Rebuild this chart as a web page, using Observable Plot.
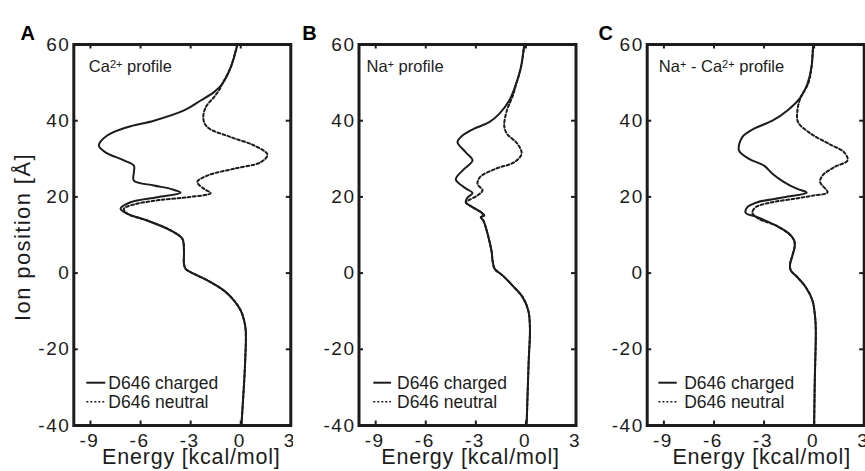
<!DOCTYPE html>
<html><head><meta charset="utf-8">
<script src="https://cdn.jsdelivr.net/npm/d3@7"></script>
<script src="https://cdn.jsdelivr.net/npm/@observablehq/plot@0.6"></script>
<style>
html,body{margin:0;padding:0;background:#fff;}
#wrap{position:relative;width:865px;height:471px;overflow:hidden;font-family:"Liberation Sans",Arial,sans-serif;}
#wrap svg{position:absolute;top:0;max-width:none;overflow:visible;}
#wrap g[aria-label$="tick label"] text{letter-spacing:1.5px;}
</style></head><body><div id="wrap"></div>
<script>
// ---- tick labels & text ----
const xTicks = [-9, -6, -3, 0, 3];
const yTicks = [60, 40, 20, 0, -20, -40];
const xInnerTicks = [-9, -6, -3, 0];
const yInnerTicks = [40, 20, 0, -20];
const xLabel = "Energy [kcal/mol]";
const yLabel = "Ion position [Å]";
const seriesNames = ["D646 charged", "D646 neutral"];
const panelLetters = ["A", "B", "C"];
const panelTitles = ["Ca^2+^ profile", "Na^+^ profile", "Na^+^ - Ca^2+^ profile"];

// ---- Panel A: Ca2+ profile ----
const caChargedPos = [60, 54, 49.7, 47.5, 45.3, 42.7, 40, 38.3, 36.1, 33.5, 31.7, 29.6, 28.2, 26.5, 24.3, 23, 22.1, 21.1, 19.9, 18.6, 16.9, 15.6, 13.8, 11.2, 9, 5.9, 2.4, 1.1, -0.2, -1.9, -4.6, -7.2, -9.8, -12.4, -15.1, -23.8, -40];
const caChargedE   = [-0.2, -0.6, -1.1, -1.6, -2.4, -3.4, -5.2, -6.8, -8.0, -8.5, -8.1, -7.0, -6.4, -6.4, -6.4, -5.2, -4.2, -3.6, -5.0, -6.6, -7.2, -6.8, -5.6, -4.2, -3.5, -3.4, -3.4, -3.3, -2.8, -2.0, -1.0, -0.4, 0.0, 0.2, 0.3, 0.26, 0.04];
const caNeutralPos = [60, 54, 49.7, 48, 46.2, 43.5, 40.5, 38.3, 35.7, 33.5, 31.1, 29.1, 27.4, 25.6, 23.9, 22.1, 21, 19.9, 19.1, 18, 16.9, 15.6, 13.8, 11.2, 9, 5.9, 2.4, 1.1, -0.2, -1.9, -4.6, -7.2, -9.8, -12.4, -15.1, -23.8, -40];
const caNeutralE   = [-0.2, -0.6, -1.1, -1.3, -1.6, -2.1, -2.24, -2.0, -0.6, 0.8, 1.6, 1.2, -0.4, -2.0, -2.6, -2.2, -1.8, -3.2, -5.0, -6.4, -7.0, -6.8, -5.6, -4.2, -3.5, -3.4, -3.4, -3.3, -2.8, -2.0, -1.0, -0.4, 0.0, 0.2, 0.3, 0.26, 0.04];

// ---- Panel B: Na+ profile ----
const naChargedPos = [60, 54, 48.8, 45.3, 41.8, 39.6, 37.9, 36.1, 34.4, 31.7, 29.6, 26.9, 24.6, 22.5, 21, 19.8, 18.6, 17.3, 16, 15.1, 14.7, 13.8, 11.2, 8.6, 5.5, 3.3, 1.1, -0.6, -3.3, -6.3, -9.8, -14.2, -23.8, -40];
const naChargedE   = [-0.1, -0.3, -0.66, -1.0, -1.6, -2.2, -3.1, -3.8, -4.1, -3.6, -3.2, -3.8, -4.2, -3.7, -3.2, -3.5, -3.6, -3.2, -2.7, -2.5, -2.7, -2.55, -2.35, -2.2, -2.05, -2.0, -1.87, -1.4, -0.8, -0.2, 0.14, 0.24, 0.16, 0.04];
const naNeutralPos = [60, 54, 48.8, 47.1, 44.8, 42.7, 38.7, 36.6, 33.9, 31.3, 29.1, 27.4, 25.2, 23.4, 21.7, 20.4, 19.2, 18.6, 17.3, 16, 15.1, 14.7, 13.8, 11.2, 8.6, 5.5, 3.3, 1.1, -0.6, -3.3, -6.3, -9.8, -14.2, -23.8, -40];
const naNeutralE   = [-0.1, -0.3, -0.64, -0.74, -0.95, -1.14, -1.3, -1.14, -0.5, -0.26, -0.7, -1.8, -2.75, -2.9, -2.6, -2.9, -3.4, -3.6, -3.2, -2.7, -2.5, -2.7, -2.55, -2.35, -2.2, -2.05, -2.0, -1.87, -1.4, -0.8, -0.2, 0.14, 0.24, 0.16, 0.04];

// ---- Panel C: Na+ - Ca2+ profile ----
const diffChargedPos = [60, 54, 49.7, 46.2, 42.7, 40, 37.9, 35.7, 32.2, 30, 28.2, 26.1, 23.9, 22.1, 21.1, 19.9, 18.6, 17.3, 15.8, 14.7, 12.5, 10.3, 8.6, 7.2, 4.6, 2.4, 0.7, -1.1, -3.7, -7.2, -11.6, -15.1, -28.2, -40];
const diffChargedE   = [-0.06, -0.16, -0.4, -0.8, -1.6, -2.5, -3.6, -4.3, -4.5, -3.9, -3.0, -2.5, -1.8, -1.0, -0.44, -1.8, -3.4, -4.0, -4.1, -3.4, -2.3, -1.5, -1.2, -1.16, -1.3, -1.44, -1.4, -1.0, -0.5, -0.1, 0.06, 0.1, 0.04, 0.0];
const diffNeutralPos = [60, 54, 49.7, 46.2, 42.7, 39.6, 36.6, 33.9, 31.7, 29.6, 27.8, 25.6, 23.9, 21.2, 20.4, 19.5, 18.6, 17.3, 15.8, 14.2, 12.5, 10.3, 8.6, 7.2, 4.6, 2.4, 0.7, -1.1, -3.7, -7.2, -11.6, -15.1, -28.2, -40];
const diffNeutralE   = [-0.06, -0.16, -0.36, -0.8, -1.0, -0.96, -0.2, 0.9, 1.8, 2.0, 1.2, 0.5, 0.36, 0.8, 0.0, -1.2, -2.5, -3.5, -3.7, -3.3, -2.3, -1.5, -1.2, -1.16, -1.3, -1.44, -1.4, -1.0, -0.5, -0.1, 0.06, 0.1, 0.04, 0.0];

const toRows = (pos, e) => pos.map((p, i) => ({pos: p, e: e[i]}));

const INK = "#1c1c1c";
const plotW = 217, plotH = 381, mTop = 44, mBottom = 46;
const panels = [
  {left: 0,   mL: 73.3, width: 293, letterDx: -53.3, titleDx: 15,  legLine: [13, 32], legText: 35, yTitle: true,
   charged: toRows(caChargedPos, caChargedE), neutral: toRows(caNeutralPos, caNeutralE), xTitleDx: 9},
  {left: 293, mL: 65.5, width: 287, letterDx: -56.8, titleDx: 7.5, legLine: [14.8, 32.5], legText: 38.5, yTitle: false,
   charged: toRows(naChargedPos, naChargedE), neutral: toRows(naNeutralPos, naNeutralE), xTitleDx: 3},
  {left: 580, mL: 66.7, width: 285, letterDx: -48.7, titleDx: 11.6, legLine: [11.7, 30], legText: 37.5, yTitle: false,
   charged: toRows(diffChargedPos, diffChargedE), neutral: toRows(diffNeutralPos, diffNeutralE), xTitleDx: 6},
];

const wrap = document.getElementById("wrap");
panels.forEach((cfg, i) => {
  const marks = [
    Plot.line(cfg.neutral, {x: "e", y: "pos", curve: "catmull-rom", stroke: INK, strokeWidth: 2, strokeDasharray: "2.8,2.4"}),
    Plot.line(cfg.charged, {x: "e", y: "pos", curve: "catmull-rom", stroke: INK, strokeWidth: 2}),
    Plot.tickX(xInnerTicks, {x: d => d, insetTop: plotH - 4.5, stroke: INK, strokeWidth: 2}),
    Plot.tickX(xInnerTicks, {x: d => d, insetBottom: plotH - 4.5, stroke: INK, strokeWidth: 2}),
    Plot.tickY(yInnerTicks, {y: d => d, insetRight: plotW - 4.5, stroke: INK, strokeWidth: 2}),
    Plot.tickY(yInnerTicks, {y: d => d, insetLeft: plotW - 4.5, stroke: INK, strokeWidth: 2}),
    Plot.frame({stroke: INK, strokeWidth: 3}),
    Plot.axisX({ticks: xTicks, tickSize: 0, tickPadding: 8, tickFormat: d => String(d), label: null, fontSize: 19, fill: INK, dx: -1}),
    Plot.axisY({ticks: yTicks, tickSize: 0, tickPadding: 3.5, tickFormat: d => String(d), label: null, fontSize: 19, fill: INK}),
    Plot.text([xLabel], {text: d => d, frameAnchor: "bottom", dx: cfg.xTitleDx, dy: 38.6, fontSize: 21.5, fill: INK}),
    Plot.text([panelLetters[i]], {text: d => d, frameAnchor: "top-left", textAnchor: "start", dx: cfg.letterDx, dy: -18.6, fontSize: 20, fontWeight: "bold", fill: "#000"}),
    Plot.text([panelTitles[i]], {text: d => d, frameAnchor: "top-left", textAnchor: "start", dx: cfg.titleDx, dy: 15.9, fontSize: 16.5, fill: INK}),
  ];
  if (cfg.yTitle) marks.push(Plot.text([yLabel], {text: d => d, frameAnchor: "left", textAnchor: "middle", rotate: -90, dx: -51, dy: 2, fontSize: 22, fill: INK}));

  const svg = Plot.plot({
    width: cfg.width, height: 471,
    marginLeft: cfg.mL, marginRight: cfg.width - cfg.mL - plotW, marginTop: mTop, marginBottom: mBottom,
    x: {domain: [-10, 3], label: null},
    y: {domain: [-40, 60], label: null},
    style: {fontFamily: "'Liberation Sans', Arial, sans-serif", fontSize: "19px", background: "white", overflow: "visible", color: INK},
    marks
  });
  svg.style.left = cfg.left + "px";

  // superscripts and letter spacing
  svg.querySelectorAll("text").forEach(t => {
    const s = t.textContent;
    if (s === yLabel) t.style.letterSpacing = "1.4px";
    if (s === xLabel) t.style.letterSpacing = "0.8px";
    if (!s.includes("^")) return;
    const parts = s.split("^");
    t.textContent = "";
    parts.forEach((p, k) => {
      if (!p) return;
      const ts = document.createElementNS("http://www.w3.org/2000/svg", "tspan");
      ts.textContent = p;
      if (k % 2) { ts.setAttribute("font-size", "11"); ts.setAttribute("dy", "-4"); }
      else if (k > 0) ts.setAttribute("dy", "4");
      t.appendChild(ts);
    });
  });

  // legend
  const g = d3.select(svg).append("g").attr("aria-label", "legend").attr("text-anchor", "start");
  const rows = [{y: 382.7, tb: 389.3, dash: null, w: 2}, {y: 401.7, tb: 408.3, dash: "2,2", w: 1.5}];
  rows.forEach((r, k) => {
    g.append("line").attr("x1", cfg.mL + cfg.legLine[0]).attr("x2", cfg.mL + cfg.legLine[1])
      .attr("y1", r.y).attr("y2", r.y).attr("stroke", INK).attr("stroke-width", r.w)
      .attr("stroke-dasharray", r.dash);
    g.append("text").attr("x", cfg.mL + cfg.legText).attr("y", r.tb).attr("font-size", 17.5)
      .attr("text-anchor", "start").attr("fill", INK).text(seriesNames[k]);
  });
  wrap.appendChild(svg);
});
</script></body></html>
